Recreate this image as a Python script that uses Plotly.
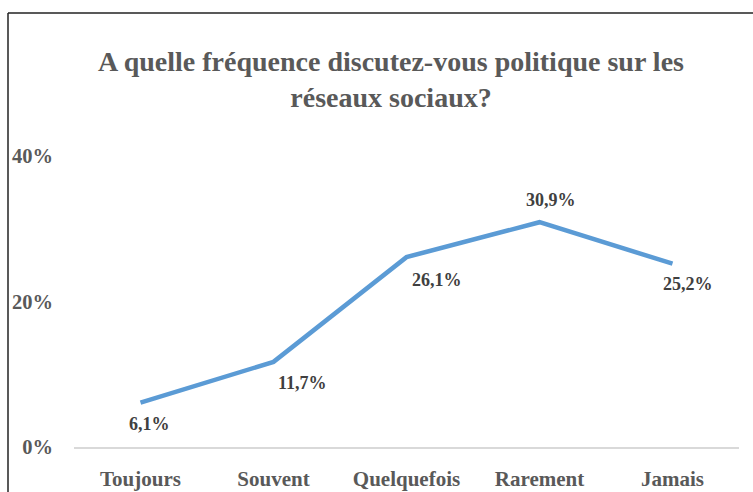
import plotly.graph_objects as go

categories = ["Toujours", "Souvent", "Quelquefois", "Rarement", "Jamais"]
values = [6.1, 11.7, 26.1, 30.9, 25.2]
value_labels = ["6,1%", "11,7%", "26,1%", "30,9%", "25,2%"]
y_tickvals = [0, 20, 40]
y_ticktext = ["0%", "20%", "40%"]
title_text = "A quelle fréquence discutez-vous politique sur les<br>réseaux sociaux?"

# label offsets (styling, pixels)
label_dx = [9, 29, 30, 11, 15]
label_dy = [-21, -21, -23, 22, -20]

W, H = 753, 492
ML, MR, MT, MB = 74, 14, 156, 45
FONT = "Liberation Serif"

fig = go.Figure()
fig.add_trace(go.Scatter(
    x=categories, y=values, mode="lines",
    line=dict(color="#5B9BD5", width=4.5),
    hoverinfo="skip", showlegend=False,
))

for c, v, t, dx, dy in zip(categories, values, value_labels, label_dx, label_dy):
    fig.add_annotation(x=c, y=v, text=t, showarrow=False, xshift=dx, yshift=dy,
                       font=dict(family=FONT, size=18, color="#404040", weight="bold"))

pw = W - ML - MR
ph = H - MT - MB
# frame lines (top and left)
x_left = (8 - ML) / pw
y_top = (H - MB - 13) / ph
fig.add_shape(type="line", xref="paper", yref="paper", x0=x_left, x1=1.1, y0=y_top, y1=y_top,
              line=dict(color="#222222", width=1.5))
fig.add_shape(type="line", xref="paper", yref="paper", x0=x_left, x1=x_left, y0=-0.3, y1=y_top,
              line=dict(color="#222222", width=1.5))

fig.update_layout(
    width=W, height=H,
    margin=dict(l=ML, r=MR, t=MT, b=MB, autoexpand=False),
    paper_bgcolor="white", plot_bgcolor="white",
    title=dict(text=title_text, x=391 / W, xanchor="center", y=(H - 71) / H, yanchor="middle",
               font=dict(family=FONT, size=28, color="#595959", weight="bold")),
    xaxis=dict(showgrid=False, zeroline=False, showline=True, linecolor="#D9D9D9", linewidth=1.5,
               ticks="", ticklabelstandoff=12, automargin=False,
               tickfont=dict(family=FONT, size=21, color="#595959", weight="bold"),
               range=[-0.5, 4.5]),
    yaxis=dict(range=[0, 40], tickvals=y_tickvals, ticktext=y_ticktext, showgrid=False,
               zeroline=False, showline=False, ticks="", ticklabelstandoff=20, automargin=False,
               tickfont=dict(family=FONT, size=20.5, color="#595959", weight="bold")),
)

fig.write_html("out.html", config={"displayModeBar": False},
               post_script="document.body.style.margin='0';document.body.style.overflow='hidden';")
